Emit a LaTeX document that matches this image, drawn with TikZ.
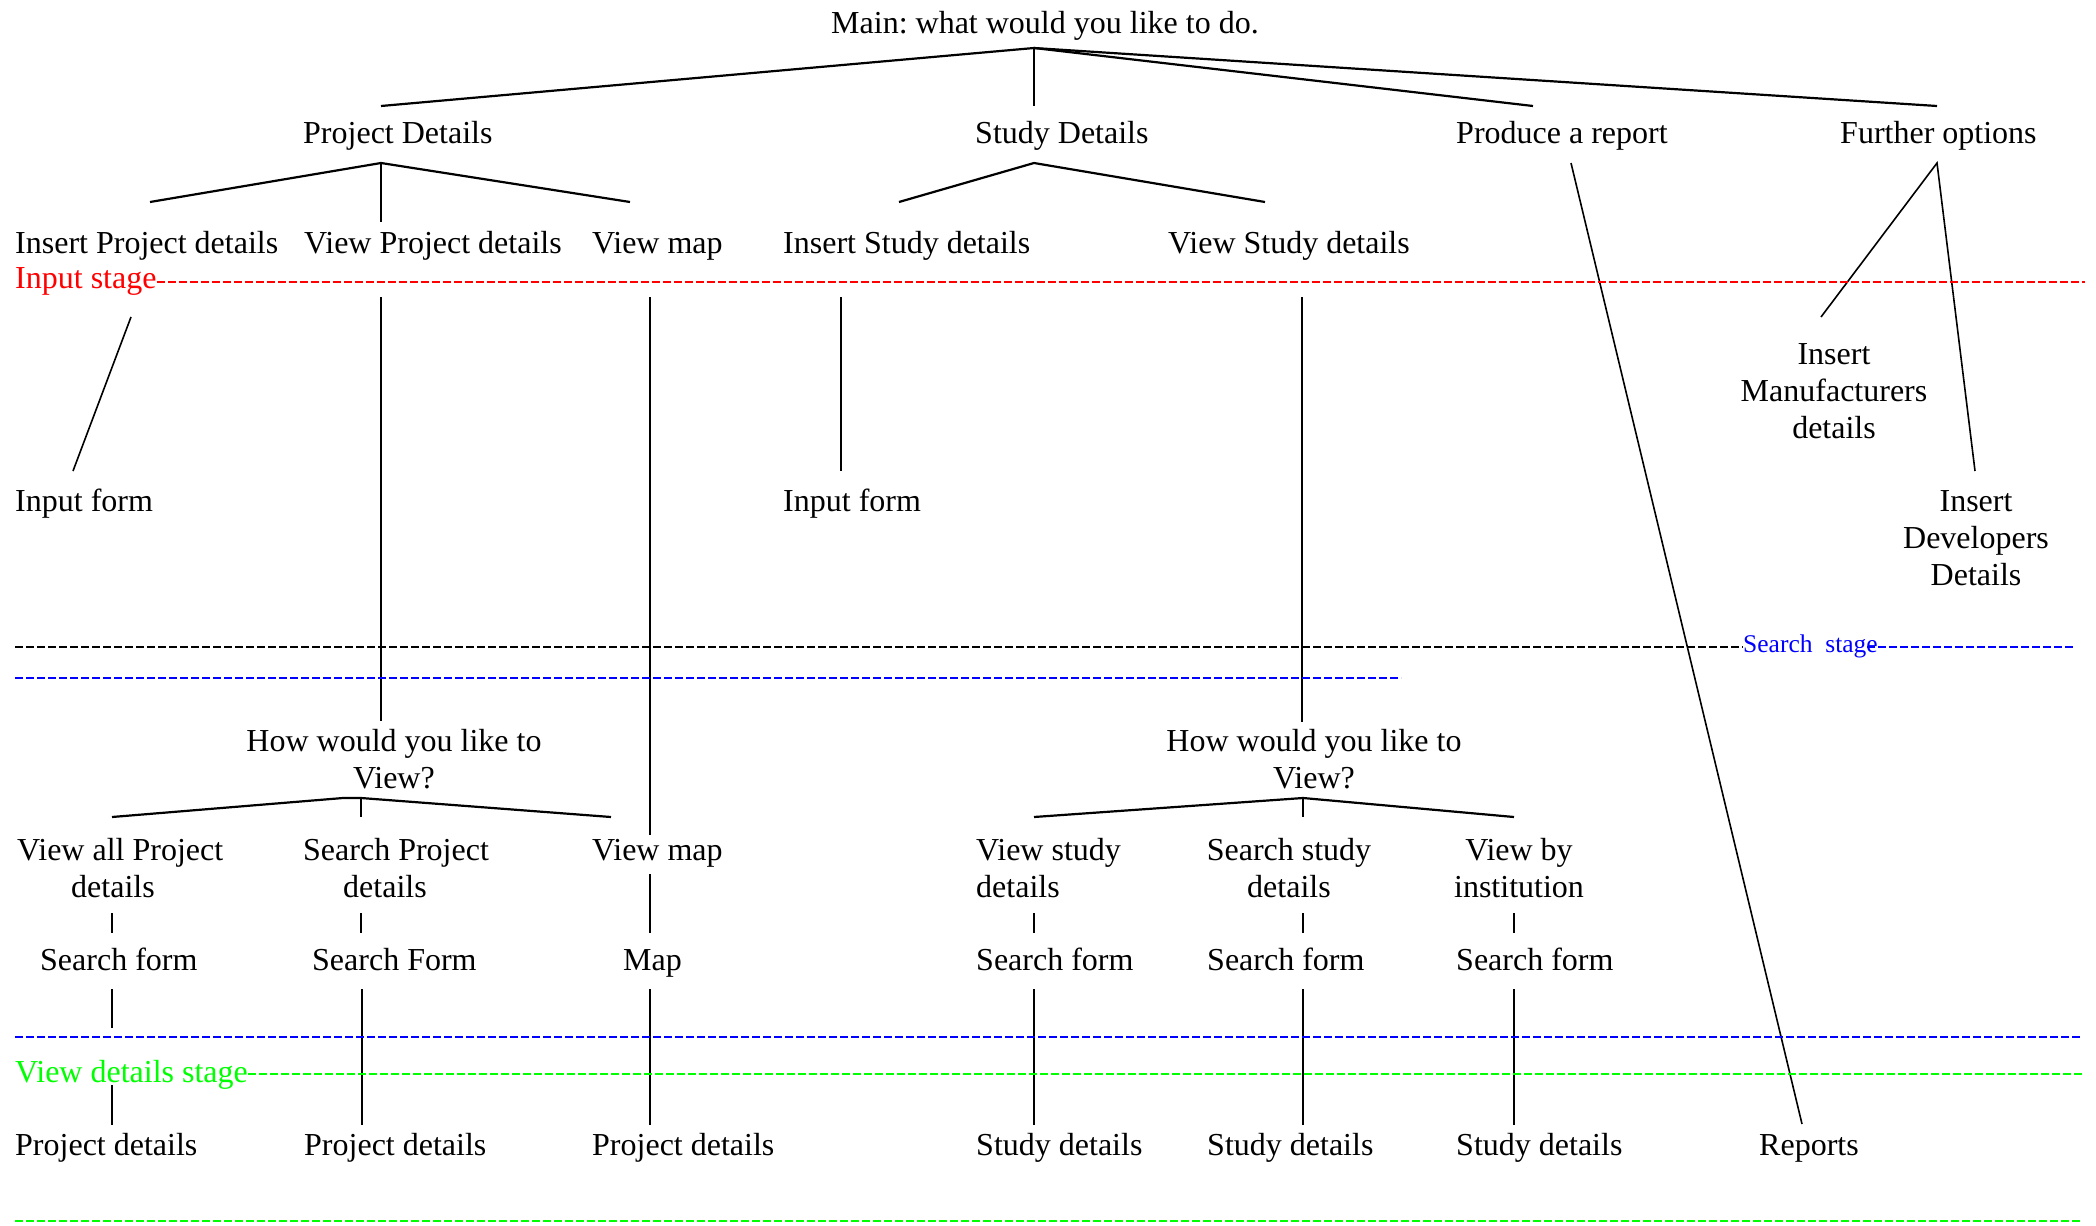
\documentclass[tikz,border=0pt]{standalone}
\usepackage{fontspec}
\setmainfont{Liberation Serif}
\frenchspacing
\begin{document}
\begin{tikzpicture}[x=1pt,y=-1pt,
  lbl/.style={inner sep=0pt, anchor=base west, font=\fontsize{32}{37}\selectfont},
  blk/.style={inner sep=0pt, anchor=base, font=\fontsize{32}{37}\selectfont},
  br/.style={line width=2.2pt},
  tk/.style={line width=1.6pt},
  dsh/.style={line width=2.4pt, dash pattern=on 8pt off 3pt}]
\useasboundingbox (0,0) rectangle (2096,1226);
% ---------------- texts ----------------
\node[lbl] (main) at (831,33) {Main: what would you like to do.};
\node[lbl] (pd) at (303,143) {Project Details};
\node[lbl] (sd) at (975,143) {Study Details};
\node[lbl] (rep) at (1456,143) {Produce a report};
\node[lbl] (fo) at (1840,143) {Further options};
\node[lbl] (ipd) at (15,253) {Insert Project details};
\node[lbl] (vpd) at (304,253) {View Project details};
\node[lbl] (vm) at (592,253) {View map};
\node[lbl] (isd) at (783,253) {Insert Study details};
\node[lbl] (vsd) at (1168,253) {View Study details};
\node[lbl, text=red] (inst) at (15,288) {Input stage};
\node[blk] (imd) at (1834,364) {\begin{tabular}[t]{@{}c@{}}Insert\\Manufacturers\\details\end{tabular}};
\node[blk] (idd) at (1976,511) {\begin{tabular}[t]{@{}c@{}}Insert\\Developers\\Details\end{tabular}};
\node[lbl] (if1) at (15,511) {Input form};
\node[lbl] (if2) at (783,511) {Input form};
\node[lbl, text=blue, font=\fontsize{25.5}{30}\selectfont] (sst) at (1743,652) {Search~~stage};
\node[blk] (hw1) at (394,751) {\begin{tabular}[t]{@{}c@{}}How would you like to\\View?\end{tabular}};
\node[blk] (hw2) at (1314,751) {\begin{tabular}[t]{@{}c@{}}How would you like to\\View?\end{tabular}};
\node[lbl] (vap) at (17,860) {\begin{tabular}[t]{@{}l@{}}View all Project\\\hspace*{54pt}details\end{tabular}};
\node[lbl] (spd) at (303,860) {\begin{tabular}[t]{@{}l@{}}Search Project\\\hspace*{40pt}details\end{tabular}};
\node[lbl] (vm2) at (592,860) {View map};
\node[lbl] (vsd2) at (976,860) {\begin{tabular}[t]{@{}l@{}}View study\\details\end{tabular}};
\node[blk] (ssd) at (1289,860) {\begin{tabular}[t]{@{}c@{}}Search study\\details\end{tabular}};
\node[blk] (vbi) at (1519,860) {\begin{tabular}[t]{@{}c@{}}View by\\institution\end{tabular}};
\node[lbl] (sf1) at (40,970) {Search form};
\node[lbl] (sf2) at (312,970) {Search Form};
\node[lbl] (map) at (623,970) {Map};
\node[lbl] (sf3) at (976,970) {Search form};
\node[lbl] (sf4) at (1207,970) {Search form};
\node[lbl] (sf5) at (1456,970) {Search form};
\node[lbl, text=green] (vds) at (15,1082) {View details stage};
\node[lbl] (pr1) at (15,1155) {Project details};
\node[lbl] (pr2) at (304,1155) {Project details};
\node[lbl] (pr3) at (592,1155) {Project details};
\node[lbl] (st1) at (976,1155) {Study details};
\node[lbl] (st2) at (1207,1155) {Study details};
\node[lbl] (st3) at (1456,1155) {Study details};
\node[lbl] (rpt) at (1759,1155) {Reports};
% ---------------- connector end points ----------------
\coordinate (mA) at (1034,48);
\coordinate (pdT) at (381,106);
\coordinate (sdT) at (1034,106);
\coordinate (repT) at (1533,106);
\coordinate (foT) at (1937,106);
\coordinate (pdA) at (381,163);
\coordinate (ipdT) at (150,202);
\coordinate (vpdT) at (381,222);
\coordinate (vmT) at (630,202);
\coordinate (sdA) at (1034,163);
\coordinate (isdT) at (899,202);
\coordinate (vsdT) at (1265,202);
\coordinate (repA) at (1571,163);
\coordinate (rptT) at (1802,1124);
\coordinate (foA) at (1937,163);
\coordinate (imdT) at (1821,317);
\coordinate (iddT) at (1975,471);
\coordinate (ipdB) at (131,317);
\coordinate (if1T) at (73,471);
\coordinate (vpdB) at (381,297);
\coordinate (hw1T) at (381,721);
\coordinate (vmB) at (650,297);
\coordinate (vm2T) at (650,835);
\coordinate (isdB) at (841,297);
\coordinate (if2T) at (841,471);
\coordinate (vsdB) at (1302,297);
\coordinate (hw2T) at (1302,722);
\coordinate (h1A) at (343,798);
\coordinate (h1B) at (361,798);
\coordinate (vapT) at (112,817);
\coordinate (spdT) at (361,817);
\coordinate (vm2T2) at (611,817);
\coordinate (h2A) at (1303,798);
\coordinate (vsd2T) at (1034,817);
\coordinate (ssdT) at (1303,817);
\coordinate (vbiT) at (1514,817);
% ---------------- tree lines ----------------
\draw[br] (pdT) -- (mA) -- (repT);
\draw[br] (mA) -- (foT);
\draw[tk] (mA) -- (sdT);
\draw[br] (ipdT) -- (pdA) -- (vmT);
\draw[tk] (pdA) -- (vpdT);
\draw[br] (isdT) -- (sdA) -- (vsdT);
\draw[tk] (repA) -- (rptT);
\draw[tk] (imdT) -- (foA) -- (iddT);
\draw[tk] (ipdB) -- (if1T);
\draw[tk] (vpdB) -- (hw1T);
\draw[tk] (vmB) -- (vm2T);
\draw[tk] (isdB) -- (if2T);
\draw[tk] (vsdB) -- (hw2T);
\draw[br] (vapT) -- (h1A) -- (h1B) -- (vm2T2);
\draw[tk] (h1B) -- (spdT);
\draw[br] (vsd2T) -- (h2A) -- (vbiT);
\draw[tk] (h2A) -- (ssdT);
% short ticks
\foreach \x/\n in {112/a,361/b,1034/c,1303/d,1514/e}{
  \coordinate (tkT\n) at (\x,913);
  \coordinate (tkB\n) at (\x,933);
  \draw[tk] (tkT\n) -- (tkB\n);
}
\coordinate (tkTm) at (650,874);
\coordinate (tkBm) at (650,933);
\draw[tk] (tkTm) -- (tkBm);
% lines from search row to details row
\coordinate (l1a) at (112,989);
\coordinate (l1b) at (112,1028);
\coordinate (l1c) at (112,1085);
\coordinate (l1d) at (112,1125);
\draw[tk] (l1a) -- (l1b);
\draw[tk] (l1c) -- (l1d);
\foreach \x/\n in {362/b,650/c,1034/d,1303/e,1514/f}{
  \coordinate (lT\n) at (\x,989);
  \coordinate (lB\n) at (\x,1125);
  \draw[tk] (lT\n) -- (lB\n);
}
% ---------------- stage separators ----------------
\coordinate (redE) at (2085,282);
\draw[dsh, red] (inst.east |- redE) -- (redE);
\coordinate (blkS) at (15,647);
\draw[dsh, black] (blkS) -- (sst.west |- blkS);
\coordinate (bl0S) at (1867,647);
\coordinate (bl0E) at (2074,647);
\draw[dsh, blue] (bl0S) -- (bl0E);
\coordinate (bl1S) at (15,678);
\coordinate (bl1E) at (1401,678);
\draw[dsh, blue] (bl1S) -- (bl1E);
\coordinate (bl2S) at (15,1037);
\coordinate (bl2E) at (2082,1037);
\draw[dsh, blue] (bl2S) -- (bl2E);
\coordinate (grE) at (2082,1074);
\draw[dsh, green] (vds.east |- grE) -- (grE);
\coordinate (gr2S) at (15,1221);
\coordinate (gr2E) at (2082,1221);
\draw[dsh, green] (gr2S) -- (gr2E);
\end{tikzpicture}
\end{document}
